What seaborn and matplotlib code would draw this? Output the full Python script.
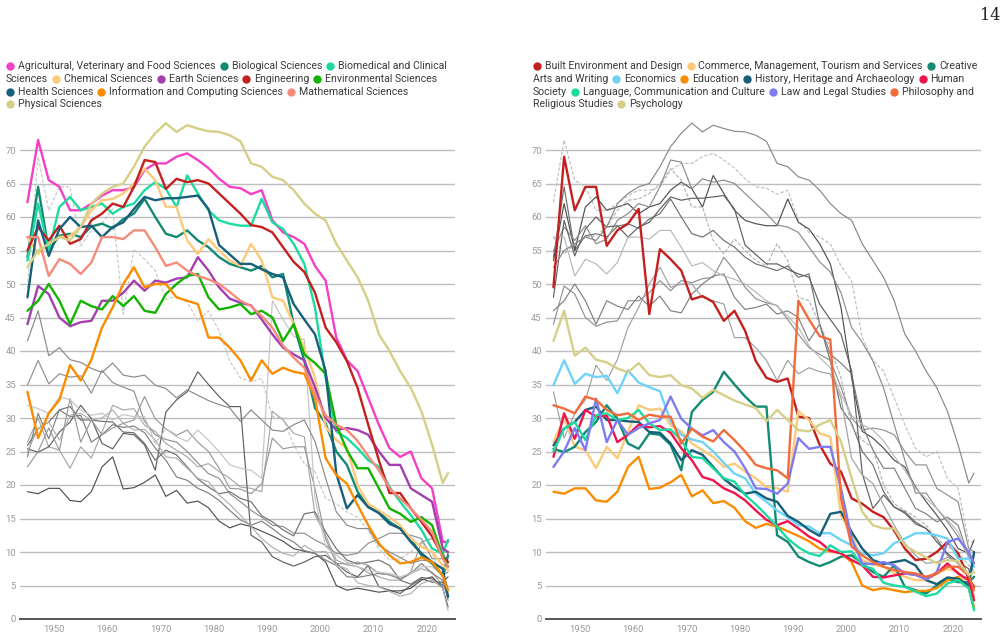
import re
import pandas as pd
import matplotlib
matplotlib.use("Agg")
import matplotlib.pyplot as plt
from matplotlib.lines import Line2D
from matplotlib.transforms import IdentityTransform
import seaborn as sns

# every second year plus the last one
years = list(range(1945, 2024, 2)) + [2024]

# --- science fields (left panel) ---
agricultural = [62.2, 71.5, 65.5, 64.5, 61, 61, 62, 63.2, 64, 64, 64.5, 67, 68, 68, 69, 69.5, 68.5, 67.3, 65.7, 64.5,
                64.3, 63.4, 64, 59.5, 57.7, 57, 56, 52.7, 50.5, 42, 38.6, 37, 33, 29, 25.5, 24.2, 25, 21, 19.5, 11.5, 11.5]
biological = [54, 64.5, 55, 57.2, 57.5, 57, 58.6, 59, 58.3, 59.7, 60.5, 62.7, 60, 57.5, 57, 58, 56.5, 55.5, 54, 53,
              52.5, 52, 52.7, 51, 51.5, 44, 38.5, 31.5, 29.2, 25, 23, 19, 16.7, 16, 14.5, 13.5, 12, 9.5, 8.3, 6.5, 9.5]
biomedical = [53.5, 62, 55, 61.5, 63, 61, 61.5, 62, 60.5, 61.5, 62, 64, 65.2, 64.2, 61.5, 66.2, 63.5, 61, 59.5, 59,
              58.7, 58.7, 62.7, 59.2, 58.2, 56, 53, 46.5, 36, 28, 27, 25.5, 23.7, 22.7, 19.7, 17.5, 15.5, 13.3, 10.5, 9.8, 11.8]
chemical = [57, 54.5, 56, 57, 57.2, 58.5, 61, 62.5, 62.7, 63.5, 65, 67.2, 65.5, 61.5, 61.5, 56.5, 54.5, 56.7, 55, 53.5,
            52.7, 56, 53.5, 48, 47.5, 44, 40.5, 36, 28.7, 26.7, 25.5, 20, 17.2, 16.2, 15.2, 14, 12, 10.8, 10, 8, 7.3]
earth = [44, 49.7, 48.5, 45, 43.7, 44.3, 44.5, 47.5, 47.5, 48.7, 50.5, 49, 50.5, 50.2, 50.8, 51, 54, 52, 49.5, 47.8,
         47.2, 46.8, 44.7, 42.5, 40.5, 39.5, 38.6, 34.6, 30, 28.2, 28.5, 28.2, 27.5, 25, 23, 23, 19.5, 18.5, 17.5, 10.5, 10]
engineering = [55, 58.5, 56.5, 58.7, 56, 56.7, 59.5, 60.5, 62, 61.5, 64.5, 68.5, 68.2, 64.2, 65.7, 65.2, 65.5, 65, 63.5, 62,
               60.5, 58.8, 58.5, 57.7, 55.5, 53.3, 51.8, 48.7, 43.5, 41.3, 38.5, 34.5, 29, 23.7, 18.8, 18.8, 16.5, 14.5, 12.3, 9.3, 8.5]
environmental = [46, 47.5, 50, 47.5, 44, 47.5, 46.7, 46.2, 48.2, 46.7, 48.2, 46, 45.7, 48.5, 50, 51.2, 51.5, 48, 46.2, 46.5,
                 47, 45.5, 46, 45, 41.5, 44, 39.5, 38.2, 36.6, 29, 25.2, 22.5, 22.5, 19.5, 16.5, 15.7, 14.5, 15.2, 14, 9.3, 7.8]
health = [48, 59.5, 54.2, 58.2, 60, 58.5, 58.7, 57, 58.5, 59.2, 61.2, 63, 62.5, 62.8, 62.8, 63, 63.2, 61.2, 55.8, 54.4,
          53, 53, 52.2, 51.5, 51, 47, 44.7, 42.5, 37, 21.7, 16.5, 18.5, 16.7, 15.8, 14.2, 13.5, 11.5, 9.8, 8.5, 7.5, 3.3]
computing = [33.9, 27, 30.7, 32.7, 37.9, 35.6, 38.7, 43.5, 46.5, 50, 52.5, 49.5, 50, 50, 48, 47.5, 47, 42, 42, 40.5,
             38.6, 35.6, 38.6, 36.6, 37.5, 36.9, 36.6, 33, 24, 21.5, 20.2, 17, 14, 11.3, 9.5, 8.3, 8.5, 9.2, 8.5, 6.5, 4.3]
mathematical = [57, 57, 51.2, 53.7, 53, 51.5, 53.2, 57, 57, 56.7, 58, 58, 55.5, 52.7, 53.2, 52, 51.2, 50.7, 50, 48.8,
                47.5, 46.7, 45.2, 43.5, 40.8, 39, 37.5, 33.5, 30.4, 29, 28.2, 26.6, 24.3, 22.2, 19.5, 18, 16.5, 14.8, 13, 9, 7.8]
physical = [52.5, 55, 56, 57, 56.5, 58.5, 62, 63.5, 64.5, 65, 67.5, 70.5, 72.5, 74, 72.7, 73.7, 73.2, 72.8, 72.7, 72.2,
            71.3, 68, 67.5, 66, 65.5, 64, 62, 60.5, 59.5, 56, 53.5, 51, 47.5, 42.5, 40, 37, 34.5, 31, 26, 20.3, 21.8]

# --- humanities and social fields (right panel) ---
built = [49.5, 69, 61, 64.5, 64.5, 55.7, 58, 59, 61.2, 45.5, 55.2, 53.7, 52, 47.7, 48.2, 47.3, 44.5, 46, 43, 38.5,
         36, 35.4, 35.9, 30.2, 30, 26, 23.2, 22, 18, 17.2, 16, 15.2, 13.2, 10.5, 8.8, 9, 10, 11.5, 9.8, 6, 4.8]
commerce = [26.4, 30, 25.7, 25.2, 22.5, 25.7, 24, 27.9, 31.9, 31.2, 31.4, 28.9, 28, 26.2, 25.2, 24.2, 22.7, 23.2, 22, 21,
            19.7, 19.5, 19, 31, 29.7, 27.7, 27.2, 15.5, 12.5, 8.8, 8.1, 7.8, 6.9, 6.3, 5.8, 5.8, 6.8, 7.5, 7, 5, 3.6]
creative = [25.4, 24.9, 25.7, 27.9, 29.4, 31.9, 29.9, 26.2, 25.4, 27.7, 27.5, 26, 22.2, 30.9, 32.7, 33.9, 36.9, 35, 33.2, 31.7,
            31.7, 12.5, 11.5, 9.3, 8.5, 7.9, 8.5, 9.3, 9.5, 8.3, 7, 6.3, 8, 4.8, 4.3, 3.8, 5, 6, 5.5, 5.5, 6.3]
economics = [34.9, 38.6, 35.1, 36.6, 36.1, 36.3, 33.7, 37.1, 35.3, 34.6, 34, 29.5, 27.5, 26.8, 26.4, 25, 23.3, 21.7, 21, 18.7,
             17.5, 16.2, 15.2, 14, 13.8, 12.8, 12.8, 11.8, 11, 9.8, 9.5, 9.8, 11.3, 12, 12.8, 12.8, 12.5, 12, 9, 9, 7.8]
education = [19, 18.7, 19.5, 19.5, 17.7, 17.5, 19, 22.7, 24.2, 19.4, 19.6, 20.4, 21.5, 18.3, 19.2, 17.3, 17.6, 16.6, 14.6, 13.6,
             14.2, 13.8, 13.1, 12.4, 11.6, 10.5, 10.1, 9.8, 8.5, 5, 4.3, 4.6, 4.3, 4, 4.2, 4.2, 4.6, 5.8, 6.3, 4.6, 1.8]
history = [25.9, 28.4, 29.4, 31.2, 31.7, 29.7, 29.7, 29.5, 29.4, 27.9, 27.8, 26.2, 23.7, 25.2, 24.5, 22.7, 20.9, 19.7, 18.7, 19,
           18, 17.5, 15.4, 14.5, 13.3, 12.4, 15.7, 16, 13, 10.5, 8.8, 8.2, 8.5, 8.8, 8, 5.8, 5.2, 6.2, 6, 5, 10]
human = [24.2, 30.7, 26.9, 31.2, 30.2, 30.4, 26.4, 27.5, 29, 28.6, 28.8, 27.8, 25.5, 23.7, 21.2, 20.7, 19.5, 18.8, 17.7, 16.2,
         14.8, 14, 14.6, 13.5, 12.3, 11.5, 10.2, 9.8, 8.8, 8, 6.3, 6.2, 6.5, 6.8, 6.6, 6, 6.8, 8.3, 6.8, 5.8, 2.8]
language = [25, 28.4, 29.4, 26.7, 30.4, 30.7, 29.7, 30, 31.2, 29.2, 28.2, 28.3, 26.7, 24.2, 24, 22.5, 21, 20.5, 18.5, 17.1,
            15.5, 13.8, 12, 10.7, 9.8, 9.4, 11, 10, 10.1, 8, 7.5, 5.4, 5, 4.8, 4.1, 3.4, 3.8, 5.3, 5.8, 4.6, 1.3]
law = [22.7, 25, 28.5, 25.2, 32.9, 26.4, 29.7, 27.5, 28.5, 29.2, 29.7, 33.2, 29.9, 28.4, 27.4, 28.2, 26.4, 25, 22.5, 19.5,
       19.4, 18.7, 20.2, 27, 25.4, 25.7, 25.7, 19.5, 12, 8.3, 8.2, 8.5, 8, 6.8, 6.6, 5.9, 7, 11.5, 12, 10, 8.3]
philosophy = [31.9, 31.4, 30.7, 33.2, 32.7, 31.2, 30.4, 30.7, 29.7, 30.5, 30.2, 30.2, 26.2, 28.4, 27.2, 26.5, 28.2, 26.7, 25, 23,
              22.5, 22.2, 21, 47.5, 44.7, 42.2, 41.7, 18, 10.8, 9.5, 8.5, 7.8, 7.3, 7, 6.8, 6.3, 6.8, 7.8, 7.8, 6.5, 4.3]
psychology = [41.5, 46, 39.3, 40.5, 38.7, 38.3, 37.4, 36.8, 38.2, 36.4, 36.1, 36.4, 34.9, 34.4, 33, 34.2, 33.4, 32.6, 32, 31.5,
              29.5, 31.2, 29.7, 28.2, 28, 29, 29.7, 26.5, 21, 16, 14, 13.5, 13.5, 11, 10, 9.2, 8.3, 8.8, 8.6, 6.6, 7]

left_names = ["Agricultural, Veterinary and Food Sciences", "Biological Sciences", "Biomedical and Clinical Sciences",
              "Chemical Sciences", "Earth Sciences", "Engineering", "Environmental Sciences", "Health Sciences",
              "Information and Computing Sciences", "Mathematical Sciences", "Physical Sciences"]
left_values = [agricultural, biological, biomedical, chemical, earth, engineering, environmental, health,
               computing, mathematical, physical]
left_colors = ["#f53fc6", "#138a72", "#1ddaa0", "#fdc97a", "#a43fb0", "#c4201f", "#13b400", "#185f7a",
               "#fb8c00", "#f58c7a", "#d6cf87"]
left_greys = ["#c0c0c0", "#707070", "#505050", "#b4b4b4", "#909090", "#8c8c8c", "#808080", "#606060",
              "#a0a0a0", "#b8b8b8", "#888888"]
left_dashed = ["Agricultural, Veterinary and Food Sciences", "Chemical Sciences"]

right_names = ["Built Environment and Design", "Commerce, Management, Tourism and Services", "Creative Arts and Writing",
               "Economics", "Education", "History, Heritage and Archaeology", "Human Society",
               "Language, Communication and Culture", "Law and Legal Studies", "Philosophy and Religious Studies",
               "Psychology"]
right_values = [built, commerce, creative, economics, education, history, human, language, law, philosophy, psychology]
right_colors = ["#c4201f", "#fdc97a", "#138a72", "#6fd3f7", "#fb8c00", "#185f7a", "#f0134e", "#1ddaa0",
                "#7e7cf0", "#f26b3a", "#d6cf87"]
right_greys = ["#c8c8c8", "#a8a8a8", "#606060", "#909090", "#505050", "#707070", "#808080", "#b0b0b0",
               "#999999", "#c4c4c4", "#8a8a8a"]
right_dashed = ["Built Environment and Design"]

left_legend = [
    "{0} Agricultural, Veterinary and Food Sciences {1} Biological Sciences {2} Biomedical and Clinical",
    "Sciences {3} Chemical Sciences {4} Earth Sciences {5} Engineering {6} Environmental Sciences",
    "{7} Health Sciences {8} Information and Computing Sciences {9} Mathematical Sciences",
    "{10} Physical Sciences",
]
right_legend = [
    "{0} Built Environment and Design {1} Commerce, Management, Tourism and Services {2} Creative",
    "Arts and Writing {3} Economics {4} Education {5} History, Heritage and Archaeology {6} Human",
    "Society {7} Language, Communication and Culture {8} Law and Legal Studies {9} Philosophy and",
    "Religious Studies {10} Psychology",
]


def long_frame(names, values):
    parts = [pd.DataFrame({"year": years, "value": v, "field": n}) for n, v in zip(names, values)]
    return pd.concat(parts, ignore_index=True)


left_df = long_frame(left_names, left_values)
right_df = long_frame(right_names, right_values)

sns.set_style("white")
plt.rcParams["font.family"] = ["Roboto", "DejaVu Sans"]

W, H = 1008, 639
fig = plt.figure(figsize=(W / 100, H / 100), dpi=100)


def panel(left_px, own_df, own_names, own_colors, other_df, other_names, other_greys, other_dashed):
    ax = fig.add_axes([left_px / W, 20 / H, 435 / W, (619 - 116.5) / H])
    sns.lineplot(data=other_df, x="year", y="value", hue="field", style="field",
                 palette=dict(zip(other_names, other_greys)),
                 dashes={n: ((3, 1.5) if n in other_dashed else "") for n in other_names},
                 linewidth=0.85, legend=False, errorbar=None, ax=ax, zorder=2)
    sns.lineplot(data=own_df, x="year", y="value", hue="field",
                 palette=dict(zip(own_names, own_colors)),
                 linewidth=1.7, legend=False, errorbar=None, ax=ax, zorder=3)
    ax.set_xlim(1943.6, 2025.3)
    ax.set_ylim(0, 75)
    ax.set_yticks(range(0, 71, 5))
    ax.set_xticks(range(1950, 2021, 10))
    ax.set_xlabel("")
    ax.set_ylabel("")
    ax.yaxis.grid(True, color="#bdbdbd", linewidth=1.0)
    ax.set_axisbelow(True)
    for s in ["top", "right", "left"]:
        ax.spines[s].set_visible(False)
    ax.spines["bottom"].set_color("#555555")
    ax.spines["bottom"].set_linewidth(1.4)
    ax.spines["bottom"].set_zorder(4)
    ax.tick_params(axis="both", length=0, labelsize=6.8, labelcolor="#9a9a9a")
    ax.tick_params(axis="y", pad=3)
    ax.tick_params(axis="x", pad=4)
    return ax


panel(20, left_df, left_names, left_colors, right_df, right_names, right_greys, right_dashed)
panel(546, right_df, right_names, right_colors, left_df, left_names, left_greys, left_dashed)

renderer = fig.canvas.get_renderer()


def draw_legend(lines, colors, x0, y0, step=12.8):
    for i, line in enumerate(lines):
        y = H - (y0 + i * step)
        x = x0
        for part in re.split(r"(\{\d+\})", line):
            part = part.strip()
            if not part:
                continue
            m = re.fullmatch(r"\{(\d+)\}", part)
            if m:
                fig.add_artist(Line2D([x + 4], [y], marker="o", markersize=6, linestyle="none",
                                      color=colors[int(m.group(1))], markeredgewidth=0,
                                      transform=IdentityTransform()))
                x += 12
            else:
                t = fig.text(x, y, part, transform=IdentityTransform(), ha="left", va="center",
                             fontsize=7.6, color="#3a3a3a")
                x += t.get_window_extent(renderer).width + 4


draw_legend(left_legend, left_colors, 6, 66)
draw_legend(right_legend, right_colors, 533, 66)

fig.text(1000 / W, 1 - 16 / H, "14", ha="right", va="center", fontsize=11.5,
         family="DejaVu Serif", color="#222222")

fig.savefig("out.png", dpi=100)
